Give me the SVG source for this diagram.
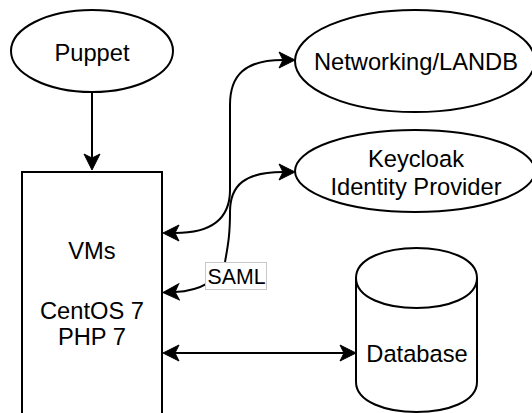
<svg xmlns="http://www.w3.org/2000/svg" width="532" height="413" viewBox="0 0 532 413">
<style>
.s{fill:#fff;stroke:#000;stroke-width:2}
.t{font-family:"Liberation Sans",Arial,sans-serif;font-size:23.7px;fill:#000;text-anchor:middle}
.e{fill:none;stroke:#000;stroke-width:2}
</style>
<defs>
<marker id="a" viewBox="-17 -9 18 18" refX="-12" refY="0" markerWidth="18" markerHeight="18" markerUnits="userSpaceOnUse" orient="auto-start-reverse">
<path d="M0,0 L-16,-8 L-12,0 L-16,8 Z" fill="#000" stroke="#000" stroke-width="1"/>
</marker>
</defs>
<rect width="532" height="413" fill="#fff"/>
<g id="connectors">
<path class="e" d="M92,92 L92,158" marker-end="url(#a)"/>
<path class="e" d="M175,353 L344,353" marker-start="url(#a)" marker-end="url(#a)"/>
<path class="e" d="M175,233 C210,233 230,220 230,190 L230,105 C230,75 245,60 283,60" marker-start="url(#a)" marker-end="url(#a)"/>
<path class="e" d="M175,292 C200,291 220,280 225,262 C228,245 230,235 230,212 C230,185 245,172 283,172" marker-start="url(#a)" marker-end="url(#a)"/>
<g id="saml-label">
<rect x="205.5" y="262.5" width="61" height="27" fill="#fff" stroke="#c8c8c8" stroke-width="1"/>
<text x="236.5" y="284" class="t" style="font-size:21.3px">SAML</text>
</g>
</g>
<g id="puppet">
<ellipse class="s" cx="92" cy="51" rx="81" ry="41"/>
<text class="t" x="92" y="61">Puppet</text>
</g>
<g id="vms">
<rect class="s" x="22" y="172" width="140" height="250"/>
<text class="t" x="92" y="259">VMs</text>
<text class="t" x="92" y="318.5">CentOS 7</text>
<text class="t" x="92" y="344.5">PHP 7</text>
</g>
<g id="networking">
<ellipse class="s" cx="415" cy="61" rx="120" ry="51"/>
<text class="t" x="416" y="69.5">Networking/LANDB</text>
</g>
<g id="keycloak">
<ellipse class="s" cx="415" cy="171" rx="120" ry="41"/>
<text class="t" x="416" y="166.5">Keycloak</text>
<text class="t" x="416" y="195">Identity Provider</text>
</g>
<g id="database">
<path class="s" d="M356,278 C356,238 477,238 477,278 L477,382 C477,422 356,422 356,382 Z"/>
<path class="e" d="M356,278 C356,318 477,318 477,278"/>
<text class="t" x="417" y="361.5">Database</text>
</g>
</svg>
